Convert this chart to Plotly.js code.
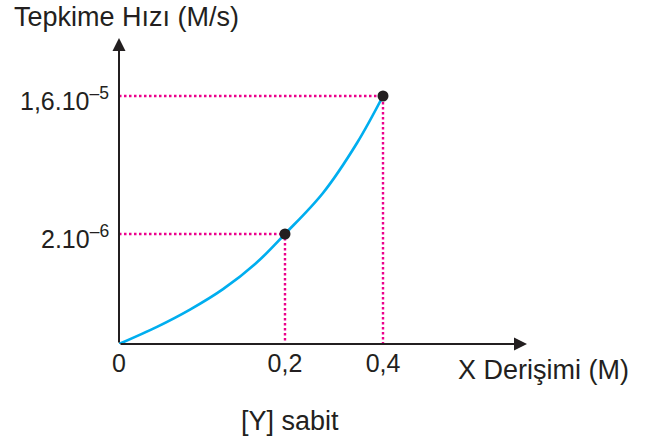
<!DOCTYPE html>
<html>
<head>
<meta charset="utf-8">
<script src="https://cdn.plot.ly/plotly-3.0.1.min.js"></script>
<style>html,body{margin:0;padding:0;background:#fff;}#chart{width:650px;height:441px;}</style>
</head>
<body>
<div id="chart"></div>
<script>
// ---- data ----
var xValues = [0, 0.2, 0.4];            // marked points: X Derişimi (M)
var yValues = [0, 2e-6, 1.6e-5];        // marked points: Tepkime Hızı (M/s)
// samples of the drawn curve
var curveX = [0, 0.0221, 0.0562, 0.0995, 0.1518, 0.2, 0.2721, 0.3426, 0.4];
var curveY = [0, 1.71e-8, 1.02e-7, 3.37e-7, 9.35e-7, 2e-6, 4.50e-6, 9.35e-6, 1.6e-5];
var xTickText = ['0', '0,2', '0,4'];
var yTickText = ['2.10<sup>–6</sup>', '1,6.10<sup>–5</sup>'];
var xTitle = 'X Derişimi (M)';
var yTitle = 'Tepkime Hızı (M/s)';
var note = '[Y] sabit';

// ---- schematic (non-linear) scale, as in the original drawing ----
var W = 650, H = 441;
var M = {l: 119, r: 123, t: 38, b: 97};
var plotW = W - M.l - M.r, plotH = H - M.t - M.b;
var xMax = Math.max.apply(null, xValues), yMax = Math.max.apply(null, yValues);
var px = 0.6694, py = 0.391;              // schematic scale exponents
function sx(v){ return Math.pow(v / xMax, px); }
function sy(v){ return Math.pow(v / yMax, py); }
var unitX = 264, unitY = 248;             // pixels per schematic unit
var xr = [0, plotW / unitX], yr = [0, plotH / unitY];

var X = xValues.map(sx), Y = yValues.map(sy);
var CX = curveX.map(sx), CY = curveY.map(sy);

var ink = '#231f20', cyan = '#00aeef', mag = '#ec008c';
var traces = [];
for (var i = 1; i < X.length; i++) {
  traces.push({x: [0, X[i], X[i]], y: [Y[i], Y[i], 0], mode: 'lines',
    line: {color: mag, width: 2.4, dash: '2.5px,2.5px'}, hoverinfo: 'skip', showlegend: false});
}
traces.push({x: CX, y: CY, mode: 'lines', line: {color: cyan, width: 2.7, shape: 'spline', smoothing: 1},
  showlegend: false});
traces.push({x: X.slice(1), y: Y.slice(1), mode: 'markers',
  marker: {color: ink, size: 11}, showlegend: false});

function pxToPaperX(p){ return (p - M.l) / plotW; }
function pxToPaperY(p){ return (H - M.b - p) / plotH; }

var fam = 'Liberation Sans, Arial, sans-serif';
var font = {family: fam, size: 25, color: ink};
var tfont = {family: fam, size: 27, color: ink};
var ann = [
  {x: xr[1], y: 0, ax: 0, ay: 0, xref: 'x', yref: 'y', axref: 'x', ayref: 'y', text: '',
    showarrow: true, arrowhead: 2, arrowsize: 1.3, arrowwidth: 2, arrowcolor: ink},
  {x: 0, y: yr[1], ax: 0, ay: 0, xref: 'x', yref: 'y', axref: 'x', ayref: 'y', text: '',
    showarrow: true, arrowhead: 2, arrowsize: 1.3, arrowwidth: 2, arrowcolor: ink},
  {text: yTitle, xref: 'paper', yref: 'paper', x: pxToPaperX(12), y: pxToPaperY(17),
    xanchor: 'left', yanchor: 'middle', showarrow: false, font: tfont},
  {text: xTitle, xref: 'paper', yref: 'paper', x: pxToPaperX(456), y: pxToPaperY(370),
    xanchor: 'left', yanchor: 'middle', showarrow: false, font: tfont},
  {text: note, xref: 'paper', yref: 'paper', x: pxToPaperX(290), y: pxToPaperY(421),
    xanchor: 'center', yanchor: 'middle', showarrow: false, font: tfont}
];
for (var j = 0; j < yTickText.length; j++) {
  ann.push({text: yTickText[j], xref: 'paper', yref: 'y', x: pxToPaperX(111), y: Y[j + 1],
    xanchor: 'right', yanchor: 'middle', yshift: -3, showarrow: false, font: font});
}
var layout = {
  width: W, height: H, margin: M, paper_bgcolor: '#fff', plot_bgcolor: '#fff',
  showlegend: false,
  xaxis: {range: xr, showgrid: false, zeroline: false, showline: false, ticks: '',
    tickvals: X, ticktext: xTickText, tickfont: font, ticklabelstandoff: 2, fixedrange: true},
  yaxis: {range: yr, showgrid: false, zeroline: false, showline: false, ticks: '',
    showticklabels: false, fixedrange: true},
  annotations: ann
};
Plotly.newPlot('chart', traces, layout, {staticPlot: true, displayModeBar: false});
</script>
</body>
</html>
